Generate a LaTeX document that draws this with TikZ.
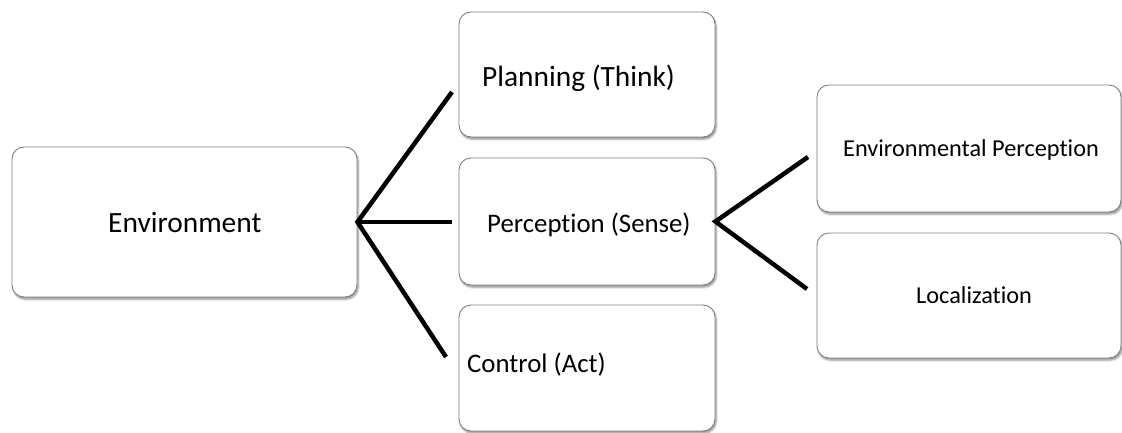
\documentclass[tikz,border=0pt]{standalone}
\usepackage{fontspec}
\setmainfont{Carlito}[Ligatures=NoCommon]
\usetikzlibrary{shadows.blur}
\tikzset{
  box/.style={draw=black!50, line width=0.9pt, fill=white, rounded corners=12pt, inner sep=0pt,
    blur shadow={shadow blur steps=6, shadow xshift=1.2pt, shadow yshift=-2.2pt, shadow blur extra rounding=1.5pt, shadow opacity=45}},
  big/.style={font=\fontsize{29.4}{35}\selectfont, inner sep=0pt, anchor=base west},
  mid/.style={font=\fontsize{26.8}{32}\selectfont, inner sep=0pt, anchor=base west},
  small/.style={font=\fontsize{24.3}{29}\selectfont, inner sep=0pt, anchor=base west},
  link/.style={line width=4.5pt, black}
}
\begin{document}
\begin{tikzpicture}[x=1pt, y=-1pt]
\useasboundingbox (0,0) rectangle (1122,433);
% boxes
\node[box, minimum width=345pt, minimum height=150pt] (env) at (184.5,222) {};
\node[box, minimum width=256pt, minimum height=125pt] (plan) at (587,74.5) {};
\node[box, minimum width=256pt, minimum height=127pt] (perc) at (587,221.5) {};
\node[box, minimum width=256pt, minimum height=126pt] (ctrl) at (587,368) {};
\node[box, minimum width=304pt, minimum height=127pt] (envp) at (969,148.5) {};
\node[box, minimum width=304pt, minimum height=125pt] (loc) at (969,295.5) {};
% texts
\node[big] (tenv) at (108,232) {Environment};
\node[big] (tplan) at (482,87) {Planning (Think)};
\node[mid] (tperc) at (487,232) {Perception (Sense)};
\node[mid] (tctrl) at (467,372) {Control (Act)};
\node[small] (tenvp) at (843,157) {Environmental Perception};
\node[small] (tloc) at (916,303) {Localization};
% connector ends
\coordinate (e1) at (452,92);
\coordinate (e2) at (452,222);
\coordinate (e3) at (446,357);
\coordinate (p1) at (808,157);
\coordinate (p2) at (807,289);
\draw[link] (e1) -- (env.east) -- (e3);
\draw[link] (env.east) -- (e2);
\draw[link] (p1) -- (perc.east) -- (p2);
\end{tikzpicture}
\end{document}
